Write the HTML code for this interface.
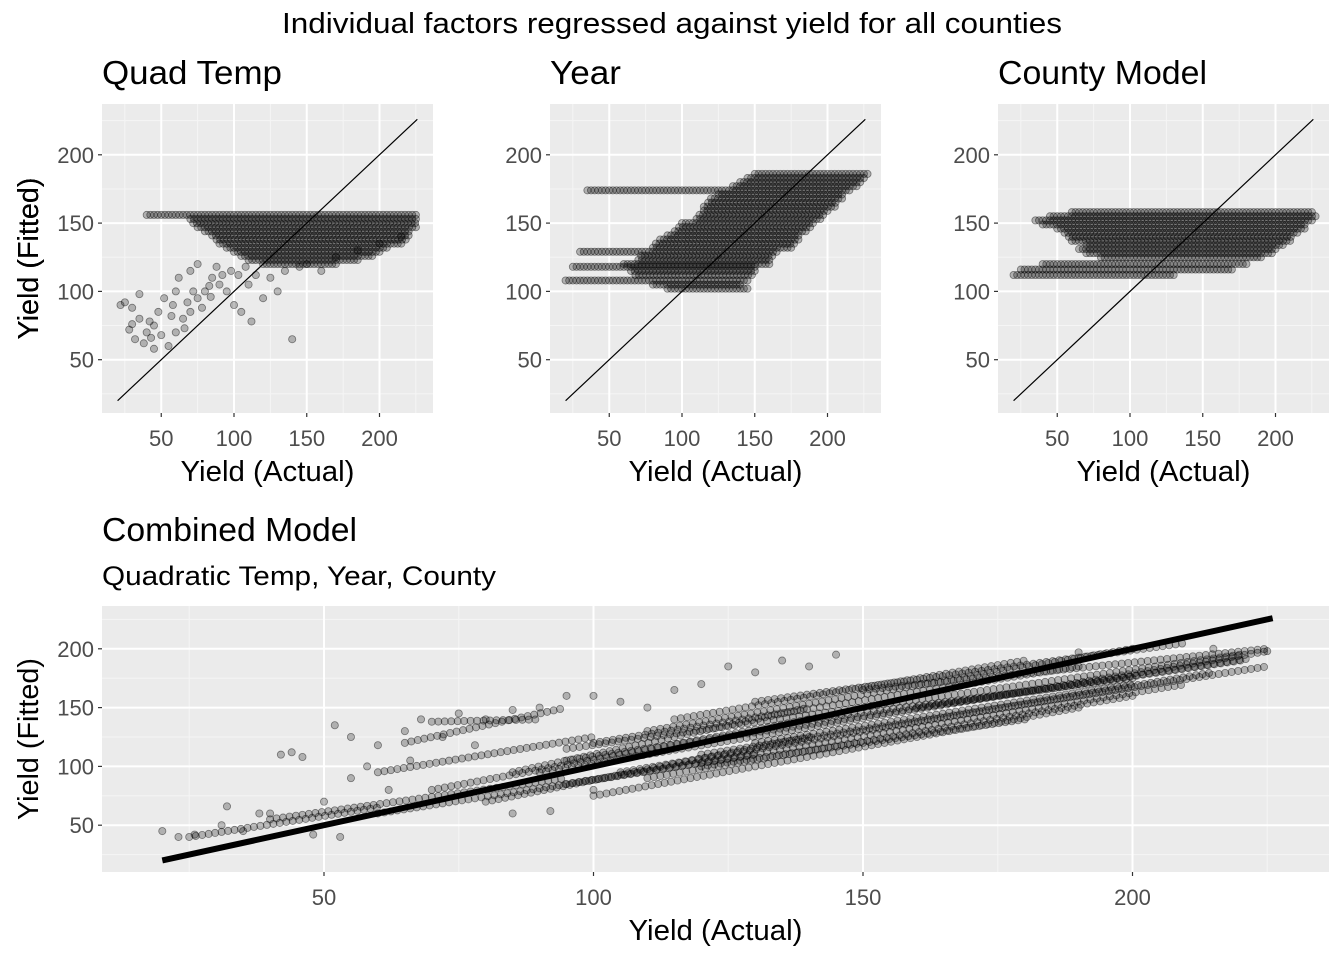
<!DOCTYPE html>
<html><head><meta charset="utf-8"><style>
body{margin:0;background:#fff;}
svg text{font-family:"Liberation Sans",Arial,sans-serif;}
</style></head><body>
<svg id="c" width="1344" height="960" xmlns="http://www.w3.org/2000/svg">
<text x="672" y="33" font-size="29" text-anchor="middle" textLength="780" lengthAdjust="spacingAndGlyphs">Individual factors regressed against yield for all counties</text>
</svg>
<script>
// ---- data: bands of points [fitted, actualFrom, actualTo] ----
const quadFitted = [156,153,150,147,144,141,138,135,132,129,126,123,120];
const quadFrom   = [40,70,72,75,80,85,88,90,95,100,105,110,120];
const quadTo     = [225,225,225,225,222,220,218,215,205,200,195,185,170];
const quadSparse = [[22,90],[25,92],[30,88],[35,80],[28,72],[32,65],[38,62],[40,70],[45,75],[50,68],[55,60],[48,85],[52,95],[58,90],[60,100],[65,80],[70,85],[75,95],[80,100],[62,110],[70,115],[75,120],[85,110],[90,105],[95,100],[100,90],[105,85],[110,105],[120,95],[130,100],[140,65],[150,120],[160,115],[170,125],[185,130],[200,135],[215,140],[35,98],[42,78],[66,73],[88,118],[112,78],[43,66],[57,82],[68,92],[78,88],[83,104],[92,112],[98,115],[103,112],[108,118],[115,112],[125,110],[135,115],[145,118],[30,76],[45,58],[60,70],[72,100],[84,96]];
const yearFitted = [186,183,180,177,174,171,168,165,162,159,156,153,150,147,144,141,138,135,132,129,126,123,120,118,115,112,108,105,102];
const yearFrom   = [150,145,140,135,35,125,120,118,115,115,112,110,100,98,95,90,85,82,80,30,72,70,60,25,65,68,20,80,90];
const yearTo     = [228,226,224,220,215,212,210,207,205,202,198,195,190,188,185,182,180,177,175,165,162,160,160,150,150,148,145,142,145];
const countyFitted = [158,155,152,149,146,143,140,137,134,131,128,125,120,116,112];
const countyFrom   = [60,45,35,40,50,55,58,60,70,65,70,80,40,25,20];
const countyTo     = [225,228,225,222,220,215,212,210,205,200,198,190,180,170,130];
// combined streaks: [actualStart, fittedStart, actualEnd, fittedEnd]
const combStreaks = [[90,95,225,198],[95,115,220,195],[95,85,210,170],[110,130,200,200],[100,75,190,150],[130,155,210,205],[60,60,130,110],[70,80,140,140],[70,138,90,140],[40,55,95,90],[25,40,60,65],[120,110,225,185],[140,140,200,175],[95,105,222,192],[105,95,215,180],[100,120,190,185],[115,140,180,190],[110,90,200,160],[150,165,225,200],[160,150,220,190],[80,70,140,125],[85,95,140,150],[60,95,100,125],[65,120,95,150],[120,100,180,140],[130,120,200,170]];
const combSparse = [[20,45],[23,40],[26,42],[31,50],[32,66],[38,60],[42,110],[44,112],[46,108],[52,135],[55,125],[60,118],[65,130],[68,140],[75,145],[80,140],[85,148],[95,160],[105,155],[115,165],[125,185],[135,190],[145,195],[35,45],[48,42],[53,40],[85,60],[92,62],[100,80],[190,197],[215,200],[225,198],[40,60],[50,70],[55,90],[58,100],[62,80],[66,105],[72,125],[78,118],[90,150],[100,160],[110,150],[120,170],[130,180],[140,185]];
const ticksTop = [50,100,150,200];
const ticksBot = [50,100,150,200];

const svg = document.getElementById('c');
const NS = 'http://www.w3.org/2000/svg';
function mk(tag, attrs, parent){const e=document.createElementNS(NS,tag);for(const k in attrs)e.setAttribute(k,attrs[k]);(parent||svg).appendChild(e);return e;}

function panel(name, L, T, W, H, xs, ys, title, sub, titleW){
  const g = mk('g',{});
  
  
  const bg = mk('rect',{x:L,y:T,width:W,height:H,fill:'#EBEBEB'},g);
  
  
  const ticks = name==='combined'?ticksBot:ticksTop;
  const minors=[25,75,125,175,225];
  minors.forEach(v=>{
    const px=xs(v); if(px>L&&px<L+W) mk('line',{x1:px,x2:px,y1:T,y2:T+H,stroke:'#F5F5F5','stroke-width':1},g);
    const py=ys(v); if(py>T&&py<T+H) mk('line',{x1:L,x2:L+W,y1:py,y2:py,stroke:'#F5F5F5','stroke-width':1},g);
  });
  ticks.forEach(v=>{
    const px=xs(v);
    mk('line',{x1:px,x2:px,y1:T,y2:T+H,stroke:'#fff','stroke-width':2},g);
    mk('line',{x1:px,x2:px,y1:T+H,y2:T+H+4,stroke:'#333','stroke-width':1.2},g);
    const t=mk('text',{x:px,y:T+H+33,'font-size':22,fill:'#4D4D4D','text-anchor':'middle'},g);
    t.textContent=v;
    
    
  });
  ticks.forEach(v=>{
    const py=ys(v);
    mk('line',{x1:L,x2:L+W,y1:py,y2:py,stroke:'#fff','stroke-width':2},g);
    mk('line',{x1:L-4,x2:L,y1:py,y2:py,stroke:'#333','stroke-width':1.2},g);
    const t=mk('text',{x:L-8,y:py+8,'font-size':22,fill:'#4D4D4D','text-anchor':'end'},g);
    t.textContent=v;
    
    
  });
  const tt=mk('text',{x:L,y:name==='combined'?T-65:T-20,'font-size':33,textLength:titleW,lengthAdjust:'spacingAndGlyphs'},g);
  tt.textContent=title;
  
  
  if(sub){const s=mk('text',{x:L,y:T-21,'font-size':27,textLength:394,lengthAdjust:'spacingAndGlyphs'},g);s.textContent=sub;
    
    }
  const xt=mk('text',{x:L+W/2,y:T+H+68,'font-size':29,'text-anchor':'middle',textLength:174,lengthAdjust:'spacingAndGlyphs'},g);
  xt.textContent='Yield (Actual)';
  
  
  const yt=mk('text',{x:0,y:0,'font-size':29,'text-anchor':'middle',textLength:162,lengthAdjust:'spacingAndGlyphs',transform:`translate(38,${T+H/2}) rotate(-90)`},g);
  yt.textContent='Yield (Fitted)';
  
  
  const pts=mk('g',{},g);
  
  
  return pts;
}
function dot(g,x,y,r){
  const c=mk('circle',{cx:x,cy:y,r:r,fill:'rgba(0,0,0,0.25)',stroke:'rgba(0,0,0,0.45)','stroke-width':0.8},g);
  
  
}
function bands(g,xs,ys,F,A,B){
  F.forEach((f,i)=>{for(let a=A[i];a<=B[i];a+=2.5)dot(g,xs(a),ys(f),3.6);});
}
function idLine(g,xs,ys,w){
  const l=mk('line',{x1:xs(20),y1:ys(20),x2:xs(226),y2:ys(226),stroke:'#000','stroke-width':w},g);
  
  
}
const offs=[0,448,896];
const names=['quad-temp','year','county-model'];
const titles=['Quad Temp','Year','County Model'];
const tw=[180,71,209];
offs.forEach((o,k)=>{
  const xs=v=>88.5+o+v*1.455, ys=v=>428-v*1.366;
  const g=panel(names[k],102+o,104,331,309,xs,ys,titles[k],null,tw[k]);
  if(k===0){bands(g,xs,ys,quadFitted,quadFrom,quadTo);quadSparse.forEach(p=>dot(g,xs(p[0]),ys(p[1]),3.6));}
  if(k===1){bands(g,xs,ys,yearFitted,yearFrom,yearTo);}
  if(k===2){bands(g,xs,ys,countyFitted,countyFrom,countyTo);}
  idLine(g,xs,ys,1.2);
});
{
  const xs=v=>54.5+v*5.39, ys=v=>884-v*1.176;
  const g=panel('combined',102,606,1227,266,xs,ys,'Combined Model','Quadratic Temp, Year, County',255);
  combStreaks.forEach(s=>{
    for(let a=s[0];a<=s[2];a+=1.2){const f=s[1]+(s[3]-s[1])*(a-s[0])/(s[2]-s[0]);dot(g,xs(a),ys(f),3.6);}
  });
  combSparse.forEach(p=>dot(g,xs(p[0]),ys(p[1]),3.6));
  idLine(g,xs,ys,6);
}
</script>
</body></html>
